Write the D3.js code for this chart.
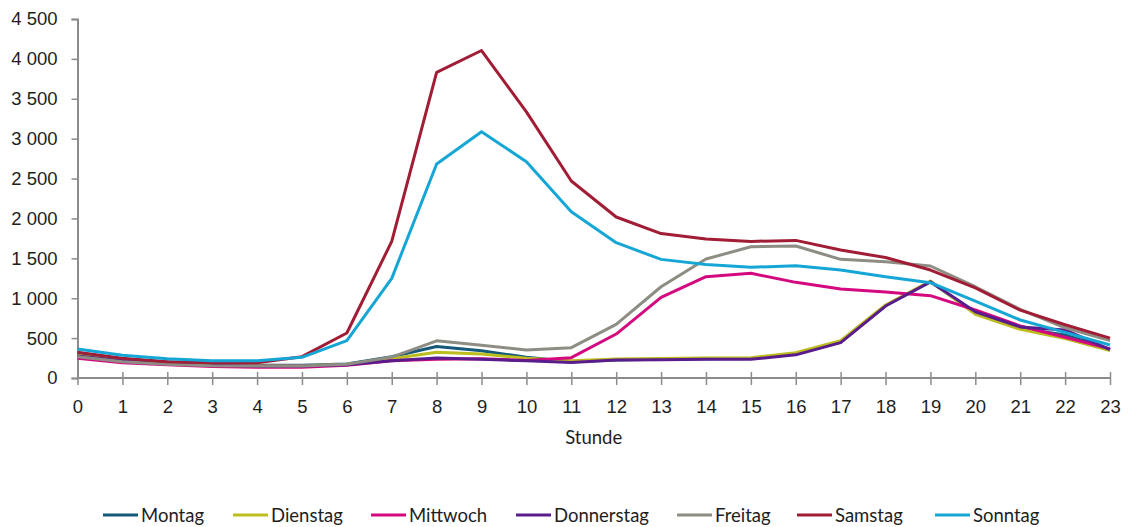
<!DOCTYPE html>
<html>
<head>
<meta charset="utf-8">
<script src="https://cdn.jsdelivr.net/npm/d3@7"></script>
<style>
  html, body { margin: 0; padding: 0; background: #ffffff; }
  svg { display: block; font-family: Lato, "Open Sans", sans-serif; }
</style>
</head>
<body>
<svg id="chart" width="1129" height="527"></svg>
<script>
// Hours of the day (x axis)
const hours = d3.range(0, 24);
const yTicks = [0, 500, 1000, 1500, 2000, 2500, 3000, 3500, 4000, 4500];

// Hourly values per weekday
const montag     = [309, 234, 200, 175, 160, 160, 175, 267, 395, 342, 259, 205, 226, 234, 240, 245, 300, 450, 905, 1205, 815, 625, 540, 360];
const dienstag   = [285, 220, 190, 165, 155, 155, 172, 240, 322, 301, 247, 217, 238, 245, 250, 255, 317, 468, 915, 1215, 798, 610, 495, 345];
const mittwoch   = [247, 192, 165, 145, 135, 135, 160, 215, 234, 240, 220, 255, 551, 1011, 1270, 1312, 1199, 1115, 1078, 1032, 852, 652, 510, 365];
const donnerstag = [275, 215, 185, 160, 150, 150, 165, 217, 250, 234, 217, 195, 226, 230, 234, 234, 290, 443, 902, 1207, 831, 640, 602, 355];
const freitag    = [267, 204, 171, 154, 150, 150, 171, 262, 466, 410, 351, 380, 673, 1144, 1491, 1646, 1654, 1487, 1458, 1404, 1144, 861, 630, 468];
const samstag    = [322, 247, 204, 192, 192, 267, 564, 1712, 3831, 4105, 3335, 2469, 2018, 1810, 1742, 1712, 1725, 1604, 1510, 1353, 1130, 850, 668, 500];
const sonntag    = [363, 285, 240, 217, 217, 259, 468, 1249, 2682, 3087, 2711, 2084, 1696, 1487, 1424, 1387, 1408, 1353, 1270, 1195, 965, 727, 572, 414];

const seriesNames = ["Montag", "Dienstag", "Mittwoch", "Donnerstag", "Freitag", "Samstag", "Sonntag"];
const seriesValues = [montag, dienstag, mittwoch, donnerstag, freitag, samstag, sonntag];
const seriesColors = ["#145a78", "#bcbd1e", "#d4097f", "#5a1c8c", "#8e8d84", "#a11d35", "#16a6d6"];

const svg = d3.select("#chart");
const plotLeft = 77.5, plotRight = 1110, plotTop = 19, plotBottom = 378;
const fontSize = "18.5px";

const x = d3.scaleLinear().domain([0, 23]).range([plotLeft, plotRight]);
const y = d3.scaleLinear().domain([0, 4500]).range([plotBottom, plotTop]);

const locale = d3.formatLocale({ decimal: ",", thousands: " ", grouping: [3], currency: ["", " €"] });
const fmt = locale.format(",d");

const axisColor = "#8c8c8c";
const textColor = "#1e1e1e";

// Y axis
const gy = svg.append("g")
  .attr("transform", `translate(${plotLeft},0)`)
  .call(d3.axisLeft(y).tickValues(yTicks).tickFormat(fmt).tickSize(6).tickPadding(14));
gy.select(".domain").attr("stroke", axisColor).attr("stroke-width", 2);
gy.selectAll(".tick line").attr("stroke", axisColor).attr("stroke-width", 1.5);
gy.selectAll(".tick text").attr("fill", textColor).style("font-size", fontSize);

// Series lines
const line = d3.line().x((d, i) => x(hours[i])).y(d => y(d));
svg.append("g").selectAll("path")
  .data(seriesValues)
  .join("path")
  .attr("d", d => line(d))
  .attr("fill", "none")
  .attr("stroke", (d, i) => seriesColors[i])
  .attr("stroke-width", 3)
  .attr("stroke-linejoin", "round");

// X axis with crossing tick marks
const gx = svg.append("g")
  .attr("transform", `translate(0,${plotBottom})`)
  .call(d3.axisBottom(x).tickValues(hours).tickFormat(d3.format("d")).tickSize(7));
gx.select(".domain").attr("stroke", axisColor).attr("stroke-width", 2).attr("d", `M${plotLeft},0H${plotRight}`);
gx.selectAll(".tick line").attr("stroke", axisColor).attr("stroke-width", 1.5).attr("y1", -6).attr("y2", 7);
gx.selectAll(".tick text").attr("fill", textColor).style("font-size", fontSize).attr("y", 22);

// Axis title
svg.append("text")
  .attr("x", (plotLeft + plotRight) / 2)
  .attr("y", 444)
  .attr("text-anchor", "middle")
  .attr("fill", textColor)
  .style("font-size", fontSize)
  .text("Stunde");

// Legend
const legendX = [103, 233, 371, 516, 677, 797, 935];
const lg = svg.append("g").selectAll("g")
  .data(seriesNames)
  .join("g")
  .attr("transform", (d, i) => `translate(${legendX[i]},515)`);
lg.append("line")
  .attr("x1", 0).attr("x2", 35).attr("y1", 0).attr("y2", 0)
  .attr("stroke", (d, i) => seriesColors[i])
  .attr("stroke-width", 3);
lg.append("text")
  .attr("x", 38)
  .attr("y", 6.5)
  .attr("fill", textColor)
  .style("font-size", fontSize)
  .text(d => d);
</script>
</body>
</html>
